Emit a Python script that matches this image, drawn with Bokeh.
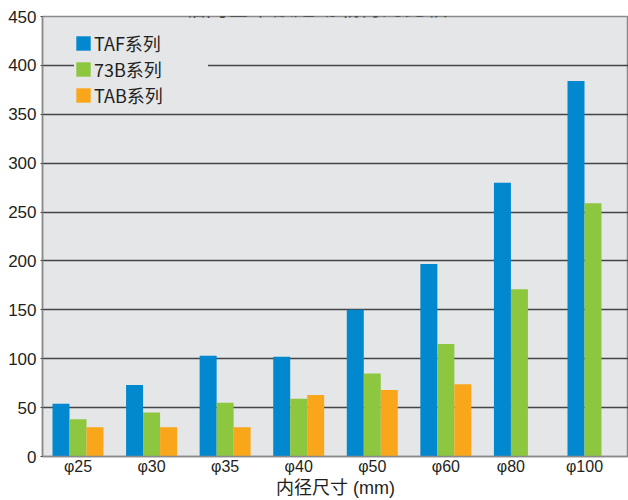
import math
from bokeh.plotting import figure
from bokeh.models import Range1d, FixedTicker, Legend, LegendItem, Label, ColumnDataSource
from bokeh.embed import file_html
from bokeh.resources import INLINE

# ---- data ----
categories = ["φ25", "φ30", "φ35", "φ40", "φ50", "φ60", "φ80", "φ100"]
taf_values = [54, 73, 103, 102, 150, 197, 280, 384]
b73_values = [38, 45, 55, 59, 85, 115, 171, 259]
tab_values = [30, 30, 30, 63, 68, 74, None, None]
series_names = ["TAF系列", "73B系列", "TAB系列"]
y_ticks = [0, 50, 100, 150, 200, 250, 300, 350, 400, 450]
title_text = "轴向基本额定动载荷的比较"
x_title = "内径尺寸 (mm)"

# ---- style ----
colors = ["#0288CF", "#8DC63F", "#F9A61B"]
bg = "#E5E6E8"
bar_w = 0.231
offsets = [-bar_w, 0.0, bar_w]
MIX = "Liberation Sans, Noto Sans CJK SC"
LEG = "Liberation Sans Narrow, Noto Sans CJK SC"

W, H = 628, 500
LEFT, TOP, BOTTOM = 42, 16, 44
unit = 73.57
x0 = -35.5 / unit
x1 = x0 + (W - LEFT) / unit

p = figure(width=W, height=H, output_backend="svg", toolbar_location=None,
           x_range=Range1d(x0, x1), y_range=Range1d(0, 450),
           min_border_left=LEFT, min_border_right=0, min_border_top=TOP, min_border_bottom=BOTTOM)
p.background_fill_color = bg
p.border_fill_color = "white"
p.outline_line_color = "#8a8a8a"
p.outline_line_width = 1.5

series = [taf_values, b73_values, tab_values]
renderers = []
present = [[] for _ in categories]
for k, vals in enumerate(series):
    xs, tops = [], []
    for i, v in enumerate(vals):
        x = i + offsets[k]
        xs.append(x)
        if v is None:
            tops.append(float("nan"))
        else:
            tops.append(v)
            present[i].append(x)
    src = ColumnDataSource(dict(x=xs, top=tops))
    r = p.vbar(x="x", top="top", bottom=0, width=bar_w, source=src,
               fill_color=colors[k], line_color=None)
    renderers.append(r)

tick_pos = [sum(xs) / len(xs) for xs in present]
p.xaxis.ticker = FixedTicker(ticks=tick_pos)
p.xaxis.major_label_overrides = {t: c for t, c in zip(tick_pos, categories)}
p.yaxis.ticker = FixedTicker(ticks=y_ticks)

p.xgrid.grid_line_color = None
p.ygrid.grid_line_color = "#454545"
p.ygrid.grid_line_width = 1.5

for ax in (p.xaxis, p.yaxis):
    ax.axis_line_color = "#8a8a8a"
    ax.axis_line_width = 1.5
    ax.major_label_text_font = MIX
    ax.major_label_text_color = "#231f20"
    ax.minor_tick_line_color = None
    ax.minor_tick_out = 0
    ax.minor_tick_in = 0
p.xaxis.major_tick_line_color = None
p.xaxis.major_tick_out = 0
p.xaxis.major_tick_in = 0
p.xaxis.major_label_text_font_size = "16px"
p.xaxis.major_label_standoff = 1
p.yaxis.major_tick_line_color = "#454545"
p.yaxis.major_tick_in = 0
p.yaxis.major_tick_out = 2
p.yaxis.major_label_text_font_size = "17px"
p.yaxis.major_label_standoff = 4

p.xaxis.axis_label = x_title
p.xaxis.axis_label_text_font = MIX
p.xaxis.axis_label_text_font_size = "18px"
p.xaxis.axis_label_text_font_style = "normal"
p.xaxis.axis_label_text_color = "#231f20"
p.xaxis.axis_label_standoff = 0

legend = Legend(items=[LegendItem(label=n, renderers=[r]) for n, r in zip(series_names, renderers)],
                location=(32, 348), orientation="vertical",
                glyph_width=18, glyph_height=18, label_height=18, label_width=114,
                label_standoff=2, spacing=0, padding=6, margin=0,
                background_fill_color=bg, background_fill_alpha=1.0,
                border_line_color=None,
                label_text_font=LEG, label_text_font_size="18px",
                label_text_color="#231f20", label_text_baseline="middle")
p.add_layout(legend, "center")

title = Label(x=3.228, y=462.0, text=title_text, text_align="center", text_baseline="alphabetic",
              text_font="Noto Sans CJK SC", text_font_size="22px", text_color="#231f20")
p.add_layout(title)

open("out.html", "w").write(file_html(p, INLINE))
